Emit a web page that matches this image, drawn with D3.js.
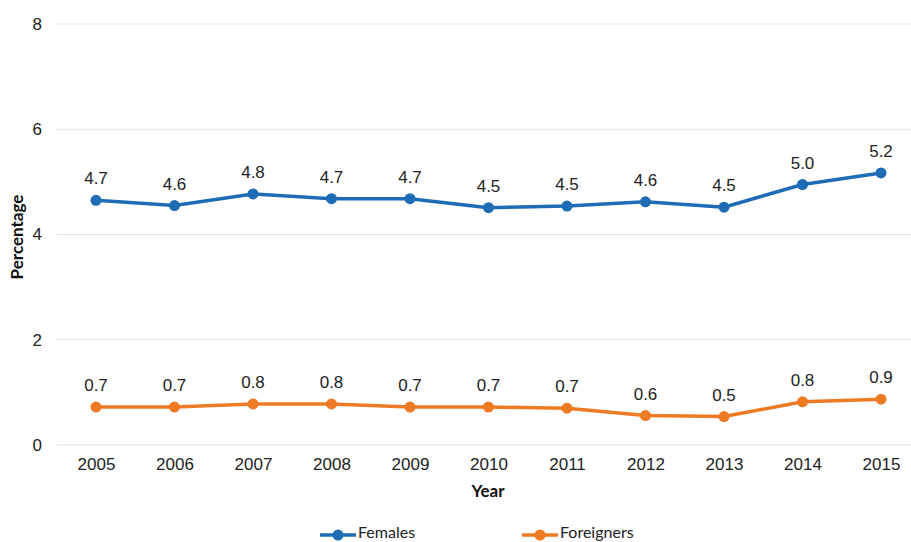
<!DOCTYPE html>
<html><head><meta charset="utf-8">
<script src="https://cdn.jsdelivr.net/npm/d3@7"></script>
<style>body{margin:0;background:#fff}svg{display:block}</style>
</head><body>
<svg id="c" width="911" height="542"></svg>
<script>
const years = [2005,2006,2007,2008,2009,2010,2011,2012,2013,2014,2015];
const females = [4.65,4.55,4.77,4.68,4.68,4.51,4.54,4.62,4.52,4.95,5.17];
const femaleLabels = ["4.7","4.6","4.8","4.7","4.7","4.5","4.5","4.6","4.5","5.0","5.2"];
const foreigners = [0.72,0.72,0.78,0.78,0.72,0.72,0.70,0.56,0.54,0.82,0.87];
const foreignerLabels = ["0.7","0.7","0.8","0.8","0.7","0.7","0.7","0.6","0.5","0.8","0.9"];
const yTicks = [0,2,4,6,8];
const seriesNames = ["Females","Foreigners"];
const colors = ["#1f6cb6","#ee7b24"];

const svg = d3.select("#c");
const x = d3.scalePoint().domain(years).range([96,881]);
const y = d3.scaleLinear().domain([0,8]).range([445,24]);
const numFont = "Liberation Sans, Arial, sans-serif";
const txtFont = "Lato, Open Sans, sans-serif";

// gridlines
svg.append("g").selectAll("line").data(yTicks).join("line")
  .attr("x1",57).attr("x2",911).attr("y1",d=>y(d)).attr("y2",d=>y(d))
  .attr("stroke","#e3e3e3").attr("stroke-width",1);

const yAxis = svg.append("g").attr("transform","translate(57,0)")
  .call(d3.axisLeft(y).tickValues(yTicks).tickSize(0).tickPadding(15));
yAxis.select(".domain").remove();
yAxis.selectAll("text").attr("font-family",numFont).attr("font-size",17).attr("fill","#222");

const xAxis = svg.append("g").attr("transform","translate(0,445)")
  .call(d3.axisBottom(x).tickSize(0).tickPadding(13));
xAxis.select(".domain").remove();
xAxis.selectAll("text").attr("font-family",numFont).attr("font-size",17).attr("fill","#222");

svg.append("text").attr("x",488).attr("y",497).attr("text-anchor","middle")
  .attr("font-family",txtFont).attr("font-weight","bold").attr("font-size",17).attr("fill","#111").text("Year");
svg.append("text").attr("transform","translate(23,237) rotate(-90)").attr("text-anchor","middle")
  .attr("font-family",txtFont).attr("font-weight","bold").attr("font-size",17).attr("fill","#111").text("Percentage");

const data = [females, foreigners];
const labels = [femaleLabels, foreignerLabels];
const line = d3.line().x((d,i)=>x(years[i])).y(d=>y(d));
data.forEach((s,k)=>{
  const g = svg.append("g");
  g.append("path").datum(s).attr("d",line).attr("fill","none").attr("stroke",colors[k]).attr("stroke-width",3.5);
  g.selectAll("circle").data(s).join("circle").attr("cx",(d,i)=>x(years[i])).attr("cy",d=>y(d)).attr("r",5.5).attr("fill",colors[k]);
  g.selectAll("text").data(s).join("text").attr("x",(d,i)=>x(years[i])).attr("y",d=>y(d)-16)
    .attr("text-anchor","middle").attr("font-family",numFont).attr("font-size",17).attr("fill","#222")
    .text((d,i)=>labels[k][i]);
});

// legend
const lx = [320,522];
seriesNames.forEach((n,k)=>{
  const g = svg.append("g").attr("transform",`translate(${lx[k]},535)`);
  g.append("line").attr("x1",0).attr("x2",36).attr("y1",0).attr("y2",0).attr("stroke",colors[k]).attr("stroke-width",3.5);
  g.append("circle").attr("cx",18).attr("cy",0).attr("r",5.5).attr("fill",colors[k]);
  g.append("text").attr("x",38).attr("y",3).attr("font-family",txtFont).attr("font-size",16).attr("fill","#222").text(n);
});
</script>
</body></html>
